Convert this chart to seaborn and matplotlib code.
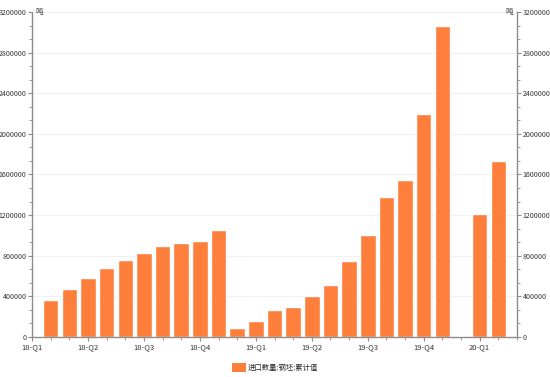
import numpy as np
import pandas as pd
import matplotlib
matplotlib.use("Agg")
import matplotlib.pyplot as plt
from matplotlib.patches import Patch
from matplotlib.ticker import MultipleLocator, AutoMinorLocator
import seaborn as sns

# monthly slots on the time axis (2018-01 .. 2020-03)
slots = [str(p) for p in pd.period_range("2018-01", "2020-03", freq="M")]
# cumulative steel billet imports (tons), None = no data
values = [
    None,
    360000, 470000, 580000, 680000, 755000, 830000, 895000, 930000, 950000, 1055000,
    87000, 160000, 265000, 295000, 405000, 510000, 748000, 1005000, 1375000, 1545000,
    2200000, 3060000,
    None, 1210000, 1735000,
    None,
]
quarter_labels = ["18-Q1", "18-Q2", "18-Q3", "18-Q4", "19-Q1",
                  "19-Q2", "19-Q3", "19-Q4", "20-Q1"]
series_name = "进口数量:钢坯:累计值"
unit = "吨"

df = pd.DataFrame({"slot": slots, "value": values}).dropna()

sns.set_style("white")
plt.rcParams["font.family"] = ["Noto Sans CJK SC", "DejaVu Sans"]

bar_color = "#fe7f3c"
axis_color = "#8c8c8c"

fig = plt.figure(figsize=(5.5, 3.77), dpi=100)
ax = fig.add_axes([32 / 550, 40 / 377, 485 / 550, 325 / 377])

sns.barplot(data=df, x="slot", y="value", order=slots, color=bar_color,
            width=0.83, saturation=1, ax=ax)

ax.set_xlim(0, len(slots) - 1)
ax.set_ylim(0, 3200000)
ax.set_xlabel("")
ax.set_ylabel("")

ax.set_xticks(range(0, len(slots), 3))
ax.set_xticklabels(quarter_labels)
ax.set_xticks(range(len(slots)), minor=True)
ax.yaxis.set_major_locator(MultipleLocator(400000))
ax.yaxis.set_minor_locator(AutoMinorLocator(3))
ax.yaxis.set_major_formatter(lambda v, pos: f"{int(v)}")

ax.grid(axis="y", color="#f0f0f0", linewidth=0.8)
ax.set_axisbelow(True)

for side in ["left", "bottom", "right"]:
    ax.spines[side].set_visible(True)
    ax.spines[side].set_color(axis_color)
    ax.spines[side].set_linewidth(1.0)
ax.spines["top"].set_visible(False)

ax.tick_params(axis="both", which="major", colors="#333333",
               length=3, width=0.8, pad=1)
ax.tick_params(axis="both", which="major", color=axis_color)
ax.tick_params(axis="y", which="major", labelsize=5.1)
ax.tick_params(axis="x", which="major", labelsize=5.5, pad=1.5)
ax.tick_params(axis="both", which="minor", length=2, width=0.6, color=axis_color)
ax.tick_params(axis="y", which="both", left=True, right=True,
               labelleft=True, labelright=True)
ax.tick_params(axis="x", which="both", bottom=True)

ax.text(0.008, 1.0, unit, transform=ax.transAxes, fontsize=5.5,
        ha="left", va="center", color="#333333")
ax.text(0.992, 1.0, unit, transform=ax.transAxes, fontsize=5.5,
        ha="right", va="center", color="#333333")

fig.legend(handles=[Patch(facecolor=bar_color, edgecolor="none", label=series_name)],
           loc="center", bbox_to_anchor=(0.5, 0.025), frameon=False,
           fontsize=5.3, handlelength=2.0, handleheight=1.6, handletextpad=0.2)

fig.savefig("out.png", dpi=100)
